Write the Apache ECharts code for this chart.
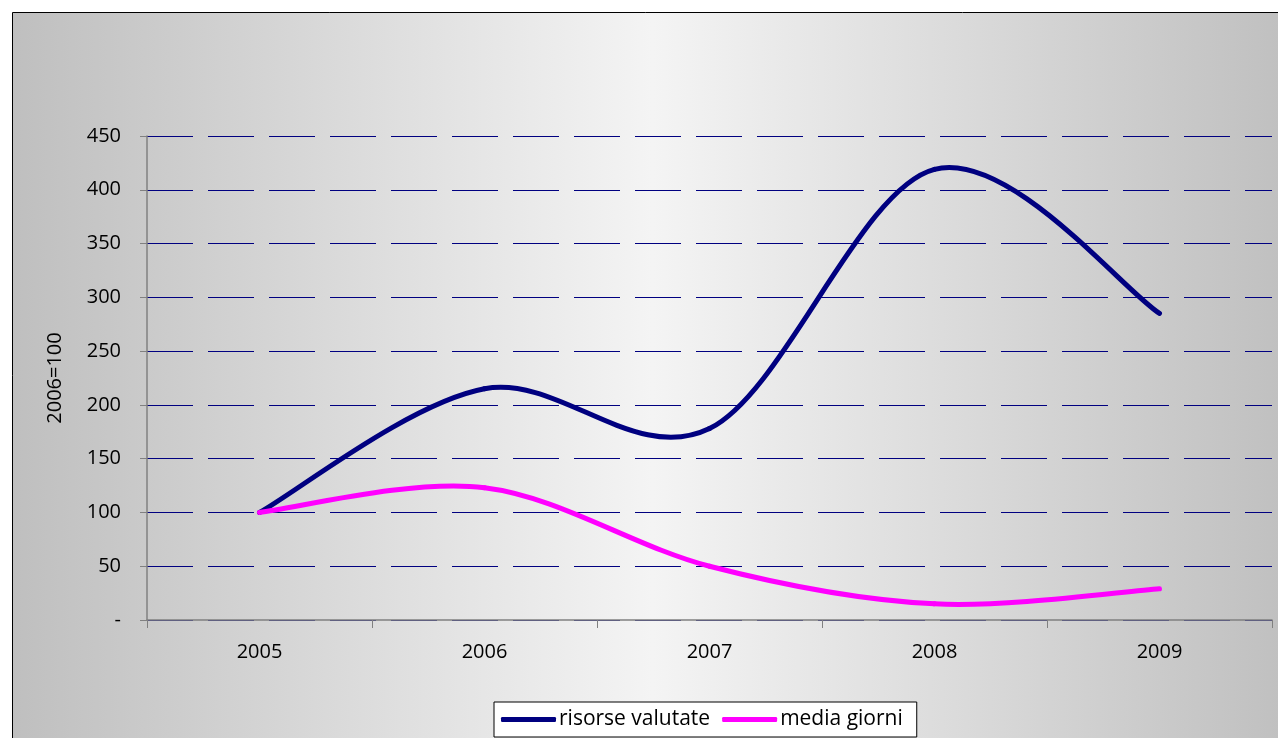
<!DOCTYPE html>
<html>
<head>
<meta charset="utf-8">
<script src="https://cdn.jsdelivr.net/npm/echarts@6/dist/echarts.min.js"></script>
<style>
  html, body { margin: 0; padding: 0; background: #fff; }
  #main { width: 1278px; height: 738px; }
</style>
</head>
<body>
<div id="main"></div>
<script>
// dati
var anni = ['2005', '2006', '2007', '2008', '2009'];
var risorseValutate = [100, 215, 178, 419, 285];
var mediaGiorni = [100, 123, 50, 15, 29];
var yTicks = [0, 50, 100, 150, 200, 250, 300, 350, 400, 450];

var myChart = echarts.init(document.getElementById('main'));

var font = '"Open Sans", sans-serif';

// linea smussata come in Excel (bezier con tangenti 1/6)
function smoothLine(color) {
    return function (params, api) {
        if (params.dataIndexInside !== 0) return null;
        var n = params.dataInsideLength;
        var pts = [];
        for (var i = 0; i < n; i++) {
            pts.push(api.coord([api.value(0, i), api.value(1, i)]));
        }
        var children = [];
        for (var k = 0; k < n - 1; k++) {
            var p0 = pts[k > 0 ? k - 1 : k];
            var p1 = pts[k];
            var p2 = pts[k + 1];
            var p3 = pts[k + 2 < n ? k + 2 : k + 1];
            children.push({
                type: 'bezierCurve',
                shape: {
                    x1: p1[0], y1: p1[1],
                    x2: p2[0], y2: p2[1],
                    cpx1: p1[0] + (p2[0] - p0[0]) / 6,
                    cpy1: p1[1] + (p2[1] - p0[1]) / 6,
                    cpx2: p2[0] - (p3[0] - p1[0]) / 6,
                    cpy2: p2[1] - (p3[1] - p1[1]) / 6
                },
                style: { stroke: color, lineWidth: 5, fill: null, lineCap: 'round', lineJoin: 'round' }
            });
        }
        return { type: 'group', children: children };
    };
}

function toPairs(arr) {
    return arr.map(function (v, i) { return [i, v]; });
}

option = {
    backgroundColor: '#ffffff',
    animation: false,
    graphic: [{
        type: 'rect',
        z: -10,
        silent: true,
        shape: { x: 12.5, y: 12.5, width: 1280, height: 740 },
        style: {
            fill: new echarts.graphic.LinearGradient(0, 0, 1, 0, [
                { offset: 0, color: '#bfbfbf' },
                { offset: 0.5, color: '#f4f4f4' },
                { offset: 1, color: '#bfbfbf' }
            ]),
            stroke: '#000',
            lineWidth: 1
        }
    }],
    grid: {
        left: 147,
        right: 6,
        top: 136,
        bottom: 118
    },
    legend: {
        bottom: 1,
        left: 494,
        data: ['risorse valutate', 'media giorni'],
        backgroundColor: '#ffffff',
        borderColor: '#000',
        borderWidth: 1,
        borderRadius: 0,
        padding: [7, 14, 7, 7],
        itemGap: 12,
        itemWidth: 55,
        itemHeight: 5,
        icon: 'roundRect',
        textStyle: { fontFamily: font, fontSize: 21, color: '#000', padding: [0, 0, 0, -2] }
    },
    xAxis: {
        type: 'category',
        data: anni,
        boundaryGap: true,
        axisLine: { lineStyle: { color: '#808080', width: 1.5 } },
        axisTick: { show: true, length: 8, lineStyle: { color: '#808080' } },
        axisLabel: { margin: 22, fontFamily: font, fontSize: 20, color: '#000' },
        splitLine: { show: false }
    },
    yAxis: {
        type: 'value',
        min: 0,
        max: 450,
        interval: 50,
        name: '2006=100',
        nameLocation: 'middle',
        nameRotate: 90,
        nameGap: 82,
        nameTextStyle: { fontFamily: font, fontSize: 20, color: '#000' },
        axisLine: { show: true, lineStyle: { color: '#808080', width: 1.5 } },
        axisTick: { show: true, length: 7, lineStyle: { color: '#808080' } },
        axisLabel: {
            margin: 26,
            fontFamily: font,
            fontSize: 20,
            color: '#000',
            formatter: function (v) {
                return v === yTicks[0] ? '-' : String(v);
            }
        },
        splitLine: {
            show: true,
            lineStyle: { color: '#000080', width: 1, type: [46, 15] }
        }
    },
    series: [{
        name: 'risorse valutate',
        type: 'custom',
        data: toPairs(risorseValutate),
        encode: { x: 0, y: 1 },
        renderItem: smoothLine('#000080'),
        itemStyle: { color: '#000080' }
    }, {
        name: 'media giorni',
        type: 'custom',
        data: toPairs(mediaGiorni),
        encode: { x: 0, y: 1 },
        renderItem: smoothLine('#ff00ff'),
        itemStyle: { color: '#ff00ff' }
    }]
};

myChart.setOption(option);
</script>
</body>
</html>
